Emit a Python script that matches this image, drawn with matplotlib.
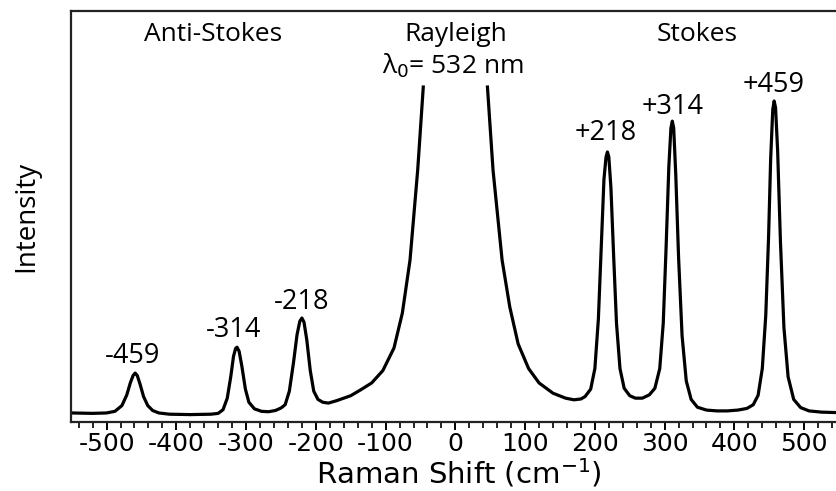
import numpy as np
import matplotlib
matplotlib.use("Agg")
import matplotlib.pyplot as plt
from matplotlib.ticker import MultipleLocator

plt.rcParams["axes.unicode_minus"] = False

# spectrum: Raman shift (cm-1) and relative intensity (axis height = 1)
# the Rayleigh line runs off the top, so it is broken (nan) under the label
shift = [-550, -520, -500, -488, -478, -471, -466, -462, -459, -456, -452, -447, -441, -434, -425, -410, -380,
         -350, -340, -333, -327, -322, -318, -315, -313, -310, -306, -301, -296, -288, -278, -268, -258, -250,
         -244, -238, -232, -227, -223, -220, -217, -213, -208, -203, -197, -190, -182, -170, -150, -136,
         -120, -104, -88, -76, -65, -54, -46, 0,
         46, 54, 67, 78, 90, 105, 120, 140, 158, 170, 180,
         186, 194, 200, 205, 209, 213, 216, 218, 220, 223, 227, 231, 236, 242, 250, 258, 268, 278,
         286, 293, 298, 302, 306, 309, 311, 313, 316, 320, 325, 331, 338, 347, 360, 375, 390, 405, 418, 427,
         434, 440, 445, 449, 452, 455, 457, 459, 462, 466, 471, 477, 485, 495, 507, 525, 545, 560]
intensity = [0.022, 0.021, 0.022, 0.026, 0.040, 0.066, 0.095, 0.113, 0.119, 0.113, 0.092, 0.062, 0.040, 0.028, 0.022, 0.019, 0.018,
             0.019, 0.021, 0.030, 0.058, 0.110, 0.160, 0.179, 0.182, 0.172, 0.135, 0.080, 0.048, 0.032, 0.026, 0.025, 0.028, 0.034,
             0.042, 0.075, 0.145, 0.212, 0.245, 0.253, 0.243, 0.200, 0.125, 0.075, 0.055, 0.048, 0.046, 0.052, 0.064, 0.078,
             0.095, 0.125, 0.180, 0.265, 0.394, 0.613, 0.815, np.nan,
             0.815, 0.613, 0.394, 0.280, 0.190, 0.130, 0.095, 0.070, 0.058, 0.054, 0.056,
             0.062, 0.080, 0.130, 0.250, 0.420, 0.590, 0.645, 0.657, 0.645, 0.570, 0.400, 0.240, 0.130, 0.082, 0.064, 0.058, 0.058, 0.066,
             0.082, 0.130, 0.240, 0.420, 0.620, 0.715, 0.732, 0.715, 0.600, 0.400, 0.210, 0.100, 0.055, 0.036, 0.029, 0.027, 0.027, 0.029, 0.033, 0.042,
             0.065, 0.130, 0.260, 0.450, 0.640, 0.760, 0.781, 0.765, 0.660, 0.440, 0.230, 0.110, 0.055, 0.035, 0.027, 0.024, 0.023, 0.023]

peak_labels = ["-459", "-314", "-218", "+218", "+314", "+459"]
label_x = [-463, -318, -221, 215, 311, 456]
label_y = [0.161, 0.224, 0.292, 0.703, 0.766, 0.820]

region_names = ["Anti-Stokes", "Rayleigh", "Stokes"]
region_x = [-348, 0, 347]

label_font = "Open Sans"

fig = plt.figure(figsize=(8.37, 4.91), dpi=100)
ax = fig.add_axes([71 / 837, 69 / 491, 775 / 837, 411 / 491])

ax.plot(shift, intensity, color="black", lw=2.3, solid_joinstyle="round")

ax.set_xlim(-551, 560)
ax.set_ylim(0, 1)

for name, x in zip(region_names, region_x):
    ax.text(x, 0.942, name, ha="center", va="center", fontsize=19, family=label_font)
ax.text(-4, 0.866, "λ$_0$= 532 nm", ha="center", va="center", fontsize=19, family=label_font)

for lab, x, y in zip(peak_labels, label_x, label_y):
    ax.text(x, y, lab, ha="center", va="center", fontsize=19.5, family=label_font)

ax.spines["right"].set_visible(False)
for s in ["left", "top", "bottom"]:
    ax.spines[s].set_linewidth(1.6)
    ax.spines[s].set_color("#222222")

ax.set_yticks([])
ax.xaxis.set_major_locator(MultipleLocator(100))
ax.xaxis.set_minor_locator(MultipleLocator(20))
ax.tick_params(axis="x", which="major", length=6, width=1.4, direction="out", labelsize=18, pad=1.5)
ax.tick_params(axis="x", which="minor", length=4, width=1.2, direction="out")

ax.set_xlabel("Raman Shift (cm$^{-1}$)", fontsize=21, labelpad=0)
ax.set_ylabel("Intensity", fontsize=20, family=label_font, labelpad=22)

fig.savefig("out.png", dpi=100)
